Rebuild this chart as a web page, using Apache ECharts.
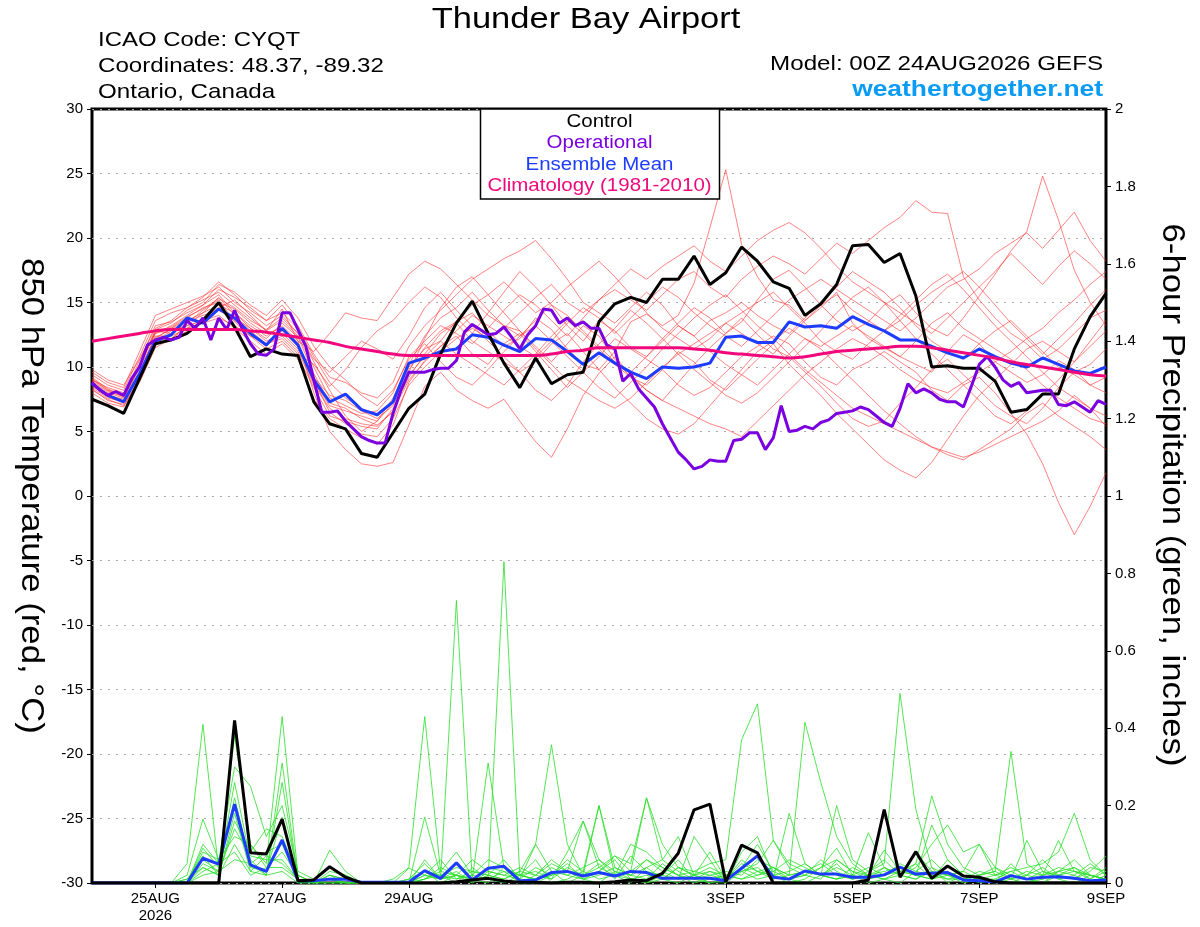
<!DOCTYPE html>
<html>
<head>
<meta charset="utf-8">
<title>Thunder Bay Airport</title>
<script src="https://cdn.jsdelivr.net/npm/echarts@6/dist/echarts.min.js"></script>
<style>
  html, body { margin: 0; padding: 0; background: #fff; }
  #chart-container { width: 1200px; height: 927px; }
</style>
</head>
<body>
<div id="chart-container"></div>
<script>
// time steps (hours since 00Z 24AUG2026)
var hours6 = [];
for (var i = 0; i <= 64; i++) hours6.push(i * 6);
var hours3 = [];
for (var j = 0; j <= 128; j++) hours3.push(j * 3);

var tickHours = [24, 72, 120, 192, 240, 288, 336, 384];
var tickText = ['25AUG\n2026', '27AUG', '29AUG', '1SEP', '3SEP', '5SEP', '7SEP', '9SEP'];

// 850 hPa temperature (C), 6-hourly
var control = [7.5, 7.0, 6.4, 9.1, 11.8, 12.1, 12.6, 13.6, 15.0, 13.1,
  10.8, 11.4, 11.0, 10.9, 7.3, 5.6, 5.2, 3.3, 3.0, 4.9,
  6.8, 7.9, 11.0, 13.4, 15.1, 12.6, 10.3, 8.4, 10.7, 8.7,
  9.4, 9.6, 13.5, 14.9, 15.4, 15.0, 16.8, 16.8, 18.6, 16.4,
  17.3, 19.3, 18.2, 16.6, 16.1, 14.0, 14.9, 16.4, 19.4, 19.5,
  18.1, 18.8, 15.5, 10.0, 10.1, 9.9, 9.9, 8.9, 6.5, 6.7,
  7.9, 7.9, 11.4, 13.9, 15.7];
var ensMean = [8.7, 7.8, 7.3, 9.5, 12.0, 12.5, 13.8, 13.4, 14.5, 13.8,
  12.6, 11.7, 13.0, 11.7, 9.0, 7.3, 7.9, 6.7, 6.3, 7.3,
  10.3, 10.7, 11.2, 11.4, 12.5, 12.3, 11.7, 11.2, 12.2, 12.1,
  11.2, 10.2, 11.1, 10.3, 9.6, 9.1, 10.0, 9.9, 10.0, 10.3,
  12.3, 12.4, 11.9, 11.9, 13.5, 13.1, 13.2, 13.0, 13.9, 13.3,
  12.8, 12.1, 12.1, 11.6, 11.1, 10.7, 11.4, 10.8, 10.3, 10.0,
  10.7, 10.2, 9.7, 9.5, 10.0];
var climatology = [12.0, 12.2, 12.4, 12.6, 12.8, 12.9, 12.9, 12.9, 12.9, 12.9,
  12.8, 12.7, 12.5, 12.3, 12.1, 11.9, 11.6, 11.4, 11.2, 11.0,
  10.9, 10.9, 10.9, 10.9, 10.9, 10.9, 10.9, 10.9, 10.9, 11.0,
  11.2, 11.3, 11.5, 11.5, 11.5, 11.5, 11.5, 11.5, 11.4, 11.3,
  11.1, 11.0, 10.9, 10.8, 10.7, 10.8, 11.0, 11.2, 11.3, 11.4,
  11.5, 11.6, 11.6, 11.5, 11.3, 11.1, 10.9, 10.7, 10.4, 10.2,
  10.0, 9.8, 9.6, 9.4, 9.3];
// operational run, 3-hourly
var operational = [8.8, 8.2, 7.8, 8.1, 7.8, 9.1, 10.0, 11.7, 12.1, 12.3,
  12.1, 12.3, 13.6, 13.0, 13.8, 12.1, 13.8, 12.9, 14.4, 12.9,
  11.8, 11.0, 10.9, 11.4, 14.2, 14.2, 12.9, 11.6, 9.0, 6.5,
  6.5, 6.6, 5.8, 5.2, 4.6, 4.3, 4.1, 4.1, 6.4, 8.2,
  9.6, 9.6, 9.6, 9.8, 9.9, 9.9, 10.5, 12.7, 13.3, 12.9,
  12.5, 12.6, 13.1, 12.3, 11.4, 12.5, 13.2, 14.5, 14.4, 13.4,
  13.8, 13.2, 13.5, 13.0, 13.0, 11.7, 11.4, 8.9, 9.5, 8.3,
  7.6, 6.9, 5.6, 4.5, 3.4, 2.8, 2.1, 2.3, 2.8, 2.7,
  2.7, 4.3, 4.4, 4.9, 4.9, 3.6, 4.5, 7.0, 5.0, 5.1,
  5.4, 5.2, 5.7, 5.9, 6.4, 6.5, 6.6, 6.9, 6.7, 6.2,
  5.7, 5.4, 6.8, 8.7, 8.0, 8.3, 8.0, 7.5, 7.3, 7.3,
  6.9, 8.5, 10.2, 10.8, 10.0, 9.0, 8.5, 8.8, 8.0, 8.1,
  8.2, 8.2, 7.1, 7.0, 7.3, 6.9, 6.5, 7.4, 7.1];

// ensemble members, temperature
var t01 = [9.2, 8.3, 7.8, 10.5, 13.2, 13.5, 14.2, 14.8, 15.6, 14.2, 13.0, 12.2, 13.4, 12.3, 9.5, 7.2, 6.8, 6.0, 5.5, 6.5, 9.8, 11.5, 12.8, 13.5, 14.2, 12.8, 11.6, 12.2, 13.8, 12.9, 11.4, 10.2, 9.8, 11.2, 13.5, 14.1, 13.2, 14.0, 16.5, 20.8, 25.3, 19.5, 17.0, 15.2, 14.8, 13.6, 14.6, 15.8, 13.4, 12.2, 11.5, 10.8, 10.2, 9.6, 11.2, 12.5, 11.8, 10.4, 9.6, 8.8, 9.4, 10.5, 9.8, 8.6, 9.2];
var t02 = [8.2, 7.5, 7.0, 8.8, 11.5, 12.2, 13.0, 13.8, 14.6, 15.2, 14.0, 12.8, 14.5, 12.0, 8.0, 5.0, 3.6, 2.5, 2.3, 2.6, 5.5, 8.5, 9.6, 8.2, 7.4, 6.8, 7.5, 5.8, 4.2, 3.0, 5.2, 7.8, 9.5, 10.8, 9.4, 8.2, 7.4, 8.8, 10.2, 11.5, 12.6, 13.8, 12.5, 11.4, 10.8, 9.6, 8.5, 7.2, 6.0, 5.4, 5.8, 7.2, 8.4, 9.8, 10.6, 9.4, 8.2, 7.0, 6.2, 5.6, 6.8, 8.4, 9.6, 10.2, 11.4];
var t03 = [8.8, 8.0, 7.6, 10.0, 12.8, 12.6, 13.4, 14.4, 15.2, 13.5, 12.4, 11.8, 12.2, 11.0, 10.2, 8.5, 9.8, 11.5, 12.8, 13.6, 15.0, 16.2, 15.4, 13.8, 12.6, 14.2, 15.8, 17.4, 16.2, 14.8, 13.2, 12.0, 13.6, 12.8, 11.5, 10.8, 12.2, 13.4, 14.6, 13.8, 12.6, 13.5, 15.2, 16.8, 17.5, 16.2, 14.8, 13.6, 12.8, 13.5, 14.8, 15.6, 14.2, 13.0, 12.4, 13.8, 15.5, 17.2, 19.0, 20.5, 24.8, 21.4, 17.5, 15.0, 13.2];
var t04 = [8.0, 7.2, 6.9, 9.2, 12.0, 12.8, 13.2, 13.6, 14.0, 13.0, 12.0, 11.0, 11.8, 10.6, 7.5, 6.0, 5.2, 4.5, 4.0, 5.5, 8.8, 10.5, 11.6, 12.4, 11.0, 10.2, 11.8, 12.6, 11.2, 9.8, 8.4, 9.6, 10.8, 12.2, 11.4, 10.6, 9.8, 8.6, 7.8, 8.4, 9.6, 10.8, 11.6, 12.4, 11.8, 10.4, 9.2, 8.6, 9.8, 10.4, 11.2, 10.4, 9.6, 8.2, 7.4, 8.6, 9.2, 8.0, 6.4, 4.8, 2.5, -0.5, -3.0, -0.8, 1.8];
var t05 = [9.6, 8.8, 8.4, 11.2, 14.0, 14.5, 15.0, 15.5, 16.2, 15.0, 14.2, 13.2, 14.0, 12.6, 10.4, 8.2, 6.2, 5.0, 5.8, 7.6, 10.2, 12.4, 13.8, 14.6, 15.8, 14.4, 13.2, 12.8, 11.6, 10.4, 11.8, 13.2, 12.4, 10.6, 9.2, 8.6, 9.8, 11.2, 10.4, 9.0, 8.2, 9.4, 10.6, 11.8, 10.2, 9.0, 7.8, 6.4, 5.2, 4.0, 2.8, 2.0, 1.4, 2.6, 4.4, 6.2, 7.8, 9.0, 10.2, 11.4, 12.0, 11.2, 10.4, 11.6, 12.8];
var t06 = [8.4, 7.6, 7.3, 9.5, 12.2, 13.0, 13.8, 14.6, 15.0, 14.5, 13.4, 12.6, 13.0, 11.8, 9.0, 6.5, 5.6, 4.8, 4.6, 6.0, 8.6, 10.0, 11.2, 12.2, 13.0, 12.2, 13.0, 14.2, 15.4, 16.4, 15.0, 14.2, 15.2, 16.0, 15.2, 14.4, 15.6, 16.8, 17.4, 16.2, 15.4, 16.8, 17.8, 18.6, 18.0, 17.2, 18.4, 19.6, 18.8, 19.8, 20.8, 21.6, 22.9, 22.0, 21.9, 17.0, 15.2, 13.8, 12.6, 11.8, 10.6, 11.4, 12.6, 13.8, 14.4];
var t07 = [9.0, 8.2, 7.9, 10.2, 12.6, 13.2, 14.0, 14.8, 16.0, 15.4, 14.6, 13.6, 14.8, 13.2, 11.0, 9.2, 8.8, 8.0, 7.6, 8.8, 11.6, 13.2, 14.4, 15.6, 16.8, 17.6, 18.4, 19.0, 19.8, 18.4, 16.8, 15.0, 14.2, 13.4, 14.6, 15.8, 14.8, 13.2, 12.4, 13.6, 14.2, 15.0, 14.0, 13.2, 12.6, 13.8, 15.0, 16.2, 17.4, 16.6, 15.8, 14.6, 13.2, 12.0, 11.2, 10.6, 11.8, 12.8, 13.6, 12.4, 11.2, 10.0, 9.4, 8.6, 8.0];
var t08 = [8.6, 7.9, 7.4, 9.6, 12.4, 12.4, 13.0, 13.4, 13.8, 13.2, 12.4, 11.4, 12.0, 10.8, 8.4, 6.2, 5.8, 5.4, 5.2, 6.8, 9.2, 11.0, 12.6, 13.4, 12.0, 11.2, 10.4, 9.6, 10.4, 11.8, 12.6, 11.2, 9.8, 8.4, 7.2, 6.0, 5.2, 4.8, 5.6, 7.0, 8.4, 9.8, 11.2, 12.0, 13.0, 12.2, 11.6, 12.4, 13.2, 12.4, 11.6, 10.8, 12.0, 13.4, 14.2, 13.0, 12.2, 11.4, 10.6, 9.8, 8.6, 7.6, 6.8, 6.0, 5.6];
var t09 = [9.4, 8.6, 8.2, 10.8, 13.6, 14.2, 14.6, 15.2, 15.8, 14.8, 13.8, 12.8, 13.6, 12.4, 10.0, 7.6, 7.0, 6.4, 6.6, 8.0, 10.8, 12.0, 13.2, 12.6, 11.8, 13.0, 14.4, 15.6, 14.8, 13.6, 12.4, 13.8, 15.2, 16.4, 17.6, 16.8, 17.8, 18.6, 19.4, 18.2, 17.4, 18.6, 19.8, 20.6, 21.2, 20.4, 19.2, 17.8, 16.6, 15.8, 15.0, 14.2, 13.4, 12.6, 13.8, 15.0, 16.2, 17.4, 18.8, 17.6, 16.4, 17.8, 19.0, 18.0, 16.8];
var t10 = [8.9, 8.1, 7.7, 10.0, 12.9, 13.4, 14.4, 15.0, 16.4, 15.8, 14.8, 14.0, 15.2, 13.8, 11.6, 10.0, 9.0, 7.8, 7.0, 8.2, 10.6, 11.8, 10.4, 9.2, 8.6, 9.8, 11.2, 12.4, 13.2, 12.0, 10.8, 9.6, 8.4, 7.6, 8.8, 10.0, 11.4, 12.6, 13.8, 14.8, 15.6, 14.4, 13.2, 12.2, 11.0, 9.8, 8.8, 7.8, 6.8, 6.2, 5.6, 5.0, 4.4, 3.8, 3.4, 3.0, 3.4, 4.0, 4.6, 5.2, 5.8, 6.6, 7.8, 6.8, 5.4];
var t11 = [8.3, 7.4, 7.1, 9.0, 11.8, 12.0, 12.8, 13.6, 14.4, 13.8, 13.0, 12.0, 12.6, 11.4, 8.8, 7.0, 6.6, 6.2, 5.8, 7.2, 9.4, 10.8, 12.0, 13.6, 14.8, 15.6, 16.6, 15.4, 14.2, 15.0, 16.2, 17.2, 18.2, 17.0, 15.6, 14.2, 13.0, 12.2, 11.4, 12.2, 13.4, 12.6, 11.8, 11.0, 12.4, 13.6, 14.8, 15.6, 14.4, 13.6, 12.8, 13.6, 14.8, 15.8, 16.6, 17.4, 16.2, 14.8, 13.4, 12.2, 11.0, 12.2, 13.4, 14.8, 16.0];
var t12 = [9.8, 9.0, 8.6, 10.6, 13.0, 13.6, 14.6, 15.4, 16.6, 15.6, 14.4, 13.6, 14.2, 13.0, 10.8, 8.8, 7.6, 6.8, 6.2, 7.4, 10.0, 11.4, 12.0, 11.0, 10.2, 9.4, 8.6, 9.8, 11.0, 12.4, 13.6, 12.6, 11.4, 10.2, 9.2, 8.2, 7.4, 6.8, 6.2, 5.6, 5.2, 4.6, 5.8, 7.0, 8.2, 9.4, 10.4, 11.4, 12.2, 11.6, 10.8, 9.8, 9.0, 8.4, 8.0, 8.8, 9.6, 10.4, 11.2, 12.2, 13.0, 14.2, 15.2, 16.4, 17.4];
var t13 = [8.7, 7.7, 7.2, 9.4, 12.0, 12.2, 13.2, 14.2, 15.4, 14.0, 12.8, 11.8, 12.4, 11.2, 8.6, 6.8, 6.0, 5.6, 5.4, 6.6, 9.0, 10.4, 11.6, 12.8, 14.0, 13.2, 12.4, 11.6, 10.8, 12.0, 13.4, 14.6, 13.8, 12.6, 13.8, 15.0, 16.2, 15.4, 14.2, 13.2, 12.4, 11.6, 12.8, 14.0, 15.2, 16.0, 16.8, 16.0, 15.2, 14.4, 13.6, 12.8, 13.8, 15.0, 16.2, 16.8, 17.6, 18.8, 19.6, 20.4, 19.2, 20.6, 22.0, 19.8, 18.2];
var t14 = [9.0, 8.4, 8.0, 10.2, 12.6, 13.0, 13.6, 14.2, 14.8, 14.2, 13.2, 12.4, 13.2, 12.0, 11.2, 12.6, 14.2, 13.8, 13.6, 15.4, 17.2, 18.2, 17.6, 16.4, 15.2, 14.0, 13.2, 12.4, 13.6, 14.8, 14.0, 12.8, 11.6, 10.4, 9.6, 10.8, 12.0, 13.2, 12.4, 11.2, 10.2, 9.4, 8.6, 9.8, 11.0, 12.2, 11.4, 10.2, 9.0, 7.8, 6.6, 5.6, 4.6, 3.8, 3.2, 2.8, 3.6, 4.4, 5.2, 6.4, 7.2, 6.2, 5.4, 4.6, 3.6];
var t15 = [8.5, 7.8, 7.5, 9.9, 12.3, 12.9, 13.5, 14.0, 14.4, 13.6, 12.6, 11.6, 12.8, 11.6, 9.2, 7.8, 7.4, 6.6, 6.0, 7.0, 9.6, 12.2, 14.6, 16.2, 17.0, 15.6, 14.2, 12.8, 11.4, 10.2, 9.0, 8.2, 7.4, 6.8, 7.6, 8.8, 10.0, 11.0, 11.8, 12.6, 13.4, 14.2, 15.0, 15.8, 14.6, 13.4, 12.0, 11.2, 10.6, 11.8, 12.8, 14.0, 15.2, 16.4, 17.2, 16.0, 14.6, 13.2, 12.0, 10.8, 9.6, 8.4, 7.6, 6.8, 6.2];
var t16 = [9.1, 8.2, 7.7, 10.1, 12.7, 13.1, 13.9, 14.5, 15.3, 14.6, 13.6, 12.9, 13.8, 12.6, 10.6, 9.6, 10.8, 12.0, 11.4, 10.6, 12.4, 14.6, 15.8, 14.4, 13.2, 12.0, 10.8, 9.6, 8.2, 7.4, 8.6, 10.4, 11.8, 13.0, 14.4, 13.4, 12.2, 11.0, 9.8, 8.8, 7.8, 7.2, 8.0, 9.2, 10.4, 11.6, 12.8, 14.2, 15.4, 16.2, 15.0, 13.6, 12.2, 11.0, 9.8, 8.6, 7.4, 6.2, 5.6, 6.6, 7.8, 9.0, 10.4, 12.0, 13.6];
var tempMembers = [t01, t02, t03, t04, t05, t06, t07, t08, t09, t10, t11, t12, t13, t14, t15, t16];

// 6-hour precipitation (inches)
var precipControl = [0, 0, 0, 0, 0, 0, 0, 0, 0, 0.42,
  0.078, 0.075, 0.165, 0.006, 0.008, 0.042, 0.015, 0, 0, 0,
  0, 0, 0, 0.003, 0.008, 0.012, 0.005, 0.002, 0.002, 0,
  0.002, 0.002, 0, 0.003, 0.008, 0.006, 0.025, 0.077, 0.189, 0.204,
  0.003, 0.098, 0.078, 0, 0, 0, 0, 0, 0, 0.008,
  0.19, 0.015, 0.081, 0.012, 0.044, 0.018, 0.015, 0.003, 0, 0,
  0, 0, 0, 0, 0];
var precipMean = [0, 0, 0, 0, 0, 0, 0, 0.064, 0.049, 0.204,
  0.047, 0.03, 0.111, 0.006, 0.006, 0.01, 0.01, 0.002, 0.002, 0.002,
  0.002, 0.032, 0.012, 0.052, 0.008, 0.038, 0.043, 0.006, 0.008, 0.027,
  0.03, 0.018, 0.027, 0.018, 0.03, 0.027, 0.012, 0.012, 0.012, 0.012,
  0.006, 0.038, 0.07, 0.015, 0.01, 0.031, 0.023, 0.023, 0.015, 0.015,
  0.021, 0.041, 0.023, 0.025, 0.027, 0.008, 0.006, 0.003, 0.019, 0.01,
  0.015, 0.016, 0.012, 0.006, 0.008];

var p01 = [0, 0, 0, 0, 0, 0, 0.05, 0.41, 0.03, 0.26, 0.06, 0.02, 0.31, 0.01, 0, 0.02, 0, 0, 0, 0, 0, 0.03, 0, 0.02, 0.01, 0, 0.04, 0, 0, 0.02, 0.05, 0.01, 0, 0.03, 0.01, 0, 0.02, 0.06, 0.01, 0, 0, 0.08, 0.12, 0.02, 0, 0.01, 0.04, 0.09, 0.02, 0, 0.01, 0, 0.03, 0.06, 0.02, 0, 0.01, 0, 0.05, 0.01, 0, 0.02, 0.04, 0.01, 0.03];
var p02 = [0, 0, 0, 0, 0, 0, 0, 0.09, 0.04, 0.38, 0.1, 0.05, 0.43, 0.02, 0, 0.01, 0, 0, 0, 0, 0, 0.17, 0.02, 0, 0.04, 0.01, 0, 0.02, 0.06, 0, 0.01, 0.03, 0.2, 0.02, 0, 0.04, 0.01, 0, 0.02, 0.08, 0.01, 0.04, 0.1, 0.03, 0.01, 0, 0.02, 0.05, 0.01, 0.03, 0.06, 0.02, 0.01, 0.04, 0, 0.02, 0, 0.01, 0, 0.02, 0.04, 0.01, 0, 0.02, 0.01];
var p03 = [0, 0, 0, 0, 0, 0, 0.02, 0.165, 0.06, 0.3, 0.25, 0.12, 0.2, 0.03, 0.01, 0.04, 0.02, 0, 0, 0, 0.01, 0.05, 0.01, 0.03, 0, 0.02, 0.06, 0.01, 0.1, 0.03, 0, 0.02, 0.05, 0.01, 0.07, 0.03, 0.02, 0.01, 0.12, 0.06, 0, 0.03, 0.05, 0.11, 0.04, 0.02, 0.01, 0.06, 0.03, 0.01, 0.04, 0.02, 0.05, 0.01, 0.02, 0.03, 0.01, 0, 0.01, 0.11, 0.03, 0.01, 0.02, 0, 0.02];
var p04 = [0, 0, 0, 0, 0, 0, 0, 0.1, 0.05, 0.2, 0.04, 0.03, 0.17, 0, 0, 0, 0, 0, 0, 0.01, 0.04, 0.43, 0.03, 0.08, 0.02, 0.01, 0.83, 0.02, 0.01, 0.04, 0.02, 0.01, 0.03, 0.06, 0.01, 0, 0.01, 0.04, 0.02, 0, 0.01, 0.06, 0.03, 0.01, 0.18, 0.05, 0.02, 0.01, 0.04, 0.02, 0.01, 0.03, 0.02, 0.01, 0.06, 0.02, 0.01, 0, 0.02, 0.01, 0, 0.03, 0.06, 0.02, 0.01];
var p05 = [0, 0, 0, 0, 0, 0, 0.01, 0.07, 0.02, 0.16, 0.08, 0.14, 0.12, 0.02, 0, 0.085, 0.03, 0, 0, 0, 0, 0.02, 0.01, 0.73, 0.01, 0.04, 0.03, 0, 0.02, 0.06, 0.03, 0.01, 0.02, 0.04, 0.02, 0.01, 0.05, 0.02, 0, 0.01, 0.02, 0.03, 0.04, 0.01, 0.02, 0.03, 0.02, 0.01, 0.02, 0.13, 0.04, 0.02, 0.08, 0.03, 0.01, 0.02, 0.01, 0.01, 0.03, 0.01, 0.02, 0.11, 0.03, 0.01, 0.04];
var p06 = [0, 0, 0, 0, 0, 0, 0, 0.05, 0.03, 0.22, 0.05, 0.08, 0.1, 0.01, 0, 0.02, 0.01, 0, 0, 0, 0.038, 0.02, 0.06, 0.01, 0.03, 0.02, 0.01, 0.03, 0.1, 0.357, 0.1, 0.02, 0.2, 0.04, 0.02, 0.06, 0.03, 0.01, 0.02, 0.04, 0.02, 0.01, 0.02, 0.04, 0.01, 0.02, 0.06, 0.03, 0.01, 0.02, 0.085, 0.03, 0.02, 0.01, 0.03, 0.01, 0.02, 0.04, 0.01, 0, 0.01, 0.03, 0.02, 0.05, 0.02];
var p07 = [0, 0, 0, 0, 0, 0, 0, 0.08, 0.06, 0.12, 0.1, 0.04, 0.08, 0.02, 0, 0.03, 0.02, 0, 0, 0, 0, 0.06, 0.01, 0.02, 0, 0.03, 0.02, 0.01, 0.04, 0.02, 0.06, 0.03, 0.01, 0.02, 0.1, 0.08, 0.04, 0.02, 0.03, 0.05, 0.06, 0.37, 0.463, 0.11, 0.05, 0.03, 0.02, 0.04, 0.02, 0.01, 0.02, 0.05, 0.03, 0.02, 0.01, 0.01, 0.02, 0.03, 0.01, 0.02, 0.06, 0.02, 0.01, 0.03, 0.07];
var p08 = [0, 0, 0, 0, 0, 0, 0, 0.06, 0.03, 0.14, 0.07, 0.06, 0.06, 0.01, 0, 0.01, 0, 0, 0, 0, 0.01, 0.03, 0.02, 0.01, 0.02, 0.06, 0.04, 0.02, 0.03, 0.01, 0.04, 0.02, 0.03, 0.07, 0.03, 0.22, 0.06, 0.03, 0.01, 0.02, 0.03, 0.02, 0.06, 0.04, 0.02, 0.415, 0.26, 0.12, 0.05, 0.02, 0.04, 0.02, 0.01, 0.03, 0.02, 0.01, 0.03, 0.02, 0.04, 0.02, 0.01, 0.02, 0.03, 0.02, 0.01];
var p09 = [0, 0, 0, 0, 0, 0, 0, 0.04, 0.02, 0.1, 0.03, 0.07, 0.05, 0.01, 0, 0, 0, 0, 0, 0, 0, 0.01, 0.02, 0.04, 0.03, 0.02, 0.01, 0.03, 0.02, 0.05, 0.03, 0.16, 0.04, 0.02, 0.01, 0.02, 0.01, 0.04, 0.02, 0.03, 0.01, 0.04, 0.02, 0.03, 0.06, 0.04, 0.02, 0.2, 0.06, 0.03, 0.05, 0.49, 0.19, 0.04, 0.02, 0.03, 0.1, 0.02, 0.01, 0.03, 0.02, 0.04, 0.03, 0.02, 0.01];
var p10 = [0, 0, 0, 0, 0, 0, 0, 0.03, 0.05, 0.08, 0.02, 0.04, 0.04, 0.01, 0, 0.01, 0, 0, 0, 0, 0, 0.02, 0.01, 0.02, 0.01, 0.01, 0.03, 0.02, 0.01, 0.03, 0.02, 0.04, 0.06, 0.03, 0.02, 0.04, 0.06, 0.12, 0.02, 0.01, 0.02, 0.03, 0.01, 0.02, 0.03, 0.05, 0.02, 0.01, 0.02, 0.04, 0.02, 0.03, 0.05, 0.225, 0.1, 0.04, 0.02, 0.03, 0.34, 0.05, 0.02, 0.03, 0.04, 0.02, 0.01];
var p11 = [0, 0, 0, 0, 0, 0, 0, 0.02, 0.03, 0.06, 0.05, 0.02, 0.03, 0, 0, 0, 0, 0, 0, 0, 0, 0.01, 0.03, 0.02, 0.01, 0.31, 0.04, 0.02, 0.01, 0.02, 0.03, 0.02, 0.04, 0.07, 0.05, 0.22, 0.1, 0.04, 0.03, 0.02, 0.01, 0.05, 0.03, 0.04, 0.02, 0.03, 0.05, 0.02, 0.01, 0.02, 0.03, 0.04, 0.02, 0.15, 0.06, 0.02, 0.01, 0.02, 0.03, 0.04, 0.05, 0.08, 0.18, 0.06, 0.02];
var p12 = [0, 0, 0, 0, 0, 0, 0.01, 0.04, 0.02, 0.18, 0.03, 0.02, 0.26, 0.01, 0, 0.02, 0.01, 0, 0, 0, 0, 0.01, 0.04, 0.02, 0.06, 0.03, 0.02, 0.04, 0.02, 0.01, 0.08, 0.16, 0.06, 0.02, 0.03, 0.06, 0.04, 0.02, 0.01, 0.03, 0.02, 0.01, 0.03, 0.02, 0.01, 0.02, 0.04, 0.06, 0.03, 0.02, 0.01, 0.02, 0.04, 0.1, 0.15, 0.08, 0.1, 0.04, 0.02, 0.01, 0.03, 0.02, 0.01, 0.04, 0.03];
var precipMembers = [p01, p02, p03, p04, p05, p06, p07, p08, p09, p10, p11, p12];

var FONT = 'Liberation Sans';
var C_CONTROL = '#000000';
var C_OPER = '#7a00e0';
var C_MEAN = '#1e3cff';
var C_CLIM = '#f0087c';

function pairs(xs, ys) {
  return ys.map(function (v, k) { return [xs[k], v]; });
}

var dom = document.getElementById('chart-container');
var myChart = echarts.init(dom, null, { renderer: 'canvas' });

var series = [];
precipMembers.forEach(function (m, k) {
  series.push({
    name: 'precip member ' + (k + 1), type: 'line', yAxisIndex: 1,
    data: pairs(hours6, m), showSymbol: false, silent: true,
    lineStyle: { color: '#2ade2a', width: 0.8 }, z: 1
  });
});
tempMembers.forEach(function (m, k) {
  series.push({
    name: 'temp member ' + (k + 1), type: 'line', yAxisIndex: 0,
    data: pairs(hours6, m), showSymbol: false, silent: true,
    lineStyle: { color: 'rgba(255,45,45,0.75)', width: 0.8 }, z: 2
  });
});
series.push(
  { name: 'Mean precip', type: 'line', yAxisIndex: 1, data: pairs(hours6, precipMean),
    showSymbol: false, lineStyle: { color: C_MEAN, width: 3 }, z: 3 },
  { name: 'Control precip', type: 'line', yAxisIndex: 1, data: pairs(hours6, precipControl),
    showSymbol: false, lineStyle: { color: C_CONTROL, width: 3 }, z: 4 },
  { name: 'Ensemble Mean', type: 'line', yAxisIndex: 0, data: pairs(hours6, ensMean),
    showSymbol: false, lineStyle: { color: C_MEAN, width: 3 }, z: 5 },
  { name: 'Control', type: 'line', yAxisIndex: 0, data: pairs(hours6, control),
    showSymbol: false, lineStyle: { color: C_CONTROL, width: 3 }, z: 6 },
  { name: 'Operational', type: 'line', yAxisIndex: 0, data: pairs(hours3, operational),
    showSymbol: false, lineStyle: { color: C_OPER, width: 3 }, z: 7 },
  { name: 'Climatology', type: 'line', yAxisIndex: 0, data: pairs(hours6, climatology),
    showSymbol: false, smooth: true, lineStyle: { color: C_CLIM, width: 3 }, z: 8 }
);

// header, legend and axis titles; the reference font runs wide, hence scaleX
function label(text, x, y, size, opts) {
  opts = opts || {};
  return {
    type: 'text', x: x, y: y, z: opts.z || 50,
    rotation: opts.rotation || 0, scaleX: opts.scaleX || 1,
    style: {
      text: text, font: (opts.bold ? 'bold ' : '') + size + 'px ' + FONT,
      fill: opts.color || '#000', textAlign: opts.align || 'left', textVerticalAlign: 'middle'
    }
  };
}

var legendLines = [
  ['Control', C_CONTROL],
  ['Operational', C_OPER],
  ['Ensemble Mean', C_MEAN],
  ['Climatology (1981-2010)', C_CLIM]
];

var graphics = [
  label('Thunder Bay Airport', 586, 19.5, 30, { align: 'center', scaleX: 1.15 }),
  label('ICAO Code: CYQT', 98, 40.4, 21, { scaleX: 1.14 }),
  label('Coordinates: 48.37, -89.32', 98, 66, 21, { scaleX: 1.15 }),
  label('Ontario, Canada', 98, 92, 21, { scaleX: 1.15 }),
  label('Model: 00Z 24AUG2026 GEFS', 1103, 64.4, 21, { align: 'right', scaleX: 1.15 }),
  label('weathertogether.net', 1103, 90, 22, { align: 'right', bold: true, color: '#0a9cf5', scaleX: 1.2 }),
  label('850 hPa Temperature (red, \u00B0C)', 30, 496, 30.5, { align: 'center', rotation: -Math.PI / 2, scaleX: 1.14 }),
  label('6-hour Precipitation (green, inches)', 1171, 495, 30.5, { align: 'center', rotation: -Math.PI / 2, scaleX: 1.14 }),
  { type: 'rect', shape: { x: 480.5, y: 109, width: 239, height: 90 }, style: { fill: '#fff', stroke: '#000', lineWidth: 1.5 }, z: 100 }
];
legendLines.forEach(function (l, k) {
  graphics.push(label(l[0], 599.5, 122 + k * 21.4, 17.5, { align: 'center', color: l[1], scaleX: 1.17, z: 101 }));
});

var option = {
  animation: false,
  backgroundColor: '#fff',
  textStyle: { fontFamily: FONT },
  grid: { left: 92, right: 94, top: 109, bottom: 44, show: true, borderColor: '#000', borderWidth: 3, backgroundColor: 'transparent' },
  graphic: graphics,
  xAxis: {
    type: 'value', min: 0, max: 384,
    axisLine: { show: false, onZero: false },
    axisTick: { show: true, customValues: tickHours, length: 5, lineStyle: { color: '#000', width: 1 } },
    axisLabel: {
      customValues: tickHours, color: '#000', fontSize: 15, fontFamily: FONT, margin: 7, lineHeight: 17,
      formatter: function (v) { var k = tickHours.indexOf(v); return k >= 0 ? tickText[k] : ''; }
    },
    splitLine: { show: false }
  },
  yAxis: [
    {
      type: 'value', min: -30, max: 30, interval: 5, position: 'left',
      axisLine: { show: false, onZero: false },
      axisTick: { show: true, length: 5, lineStyle: { color: '#000' } },
      axisLabel: { color: '#000', fontSize: 15, fontFamily: FONT, margin: 9 },
      splitLine: { show: true, lineStyle: { color: '#aaa', type: [2, 6], width: 1.2 } }
    },
    {
      type: 'value', min: 0, max: 2, interval: 0.2, position: 'right',
      axisLine: { show: false, onZero: false },
      axisTick: { show: true, length: 5, lineStyle: { color: '#000' } },
      axisLabel: { color: '#000', fontSize: 15, fontFamily: FONT, margin: 9,
        formatter: function (v) { return String(Math.round(v * 10) / 10); } },
      splitLine: { show: false }
    }
  ],
  series: series
};

myChart.setOption(option);
window.addEventListener('resize', myChart.resize);
</script>
</body>
</html>
